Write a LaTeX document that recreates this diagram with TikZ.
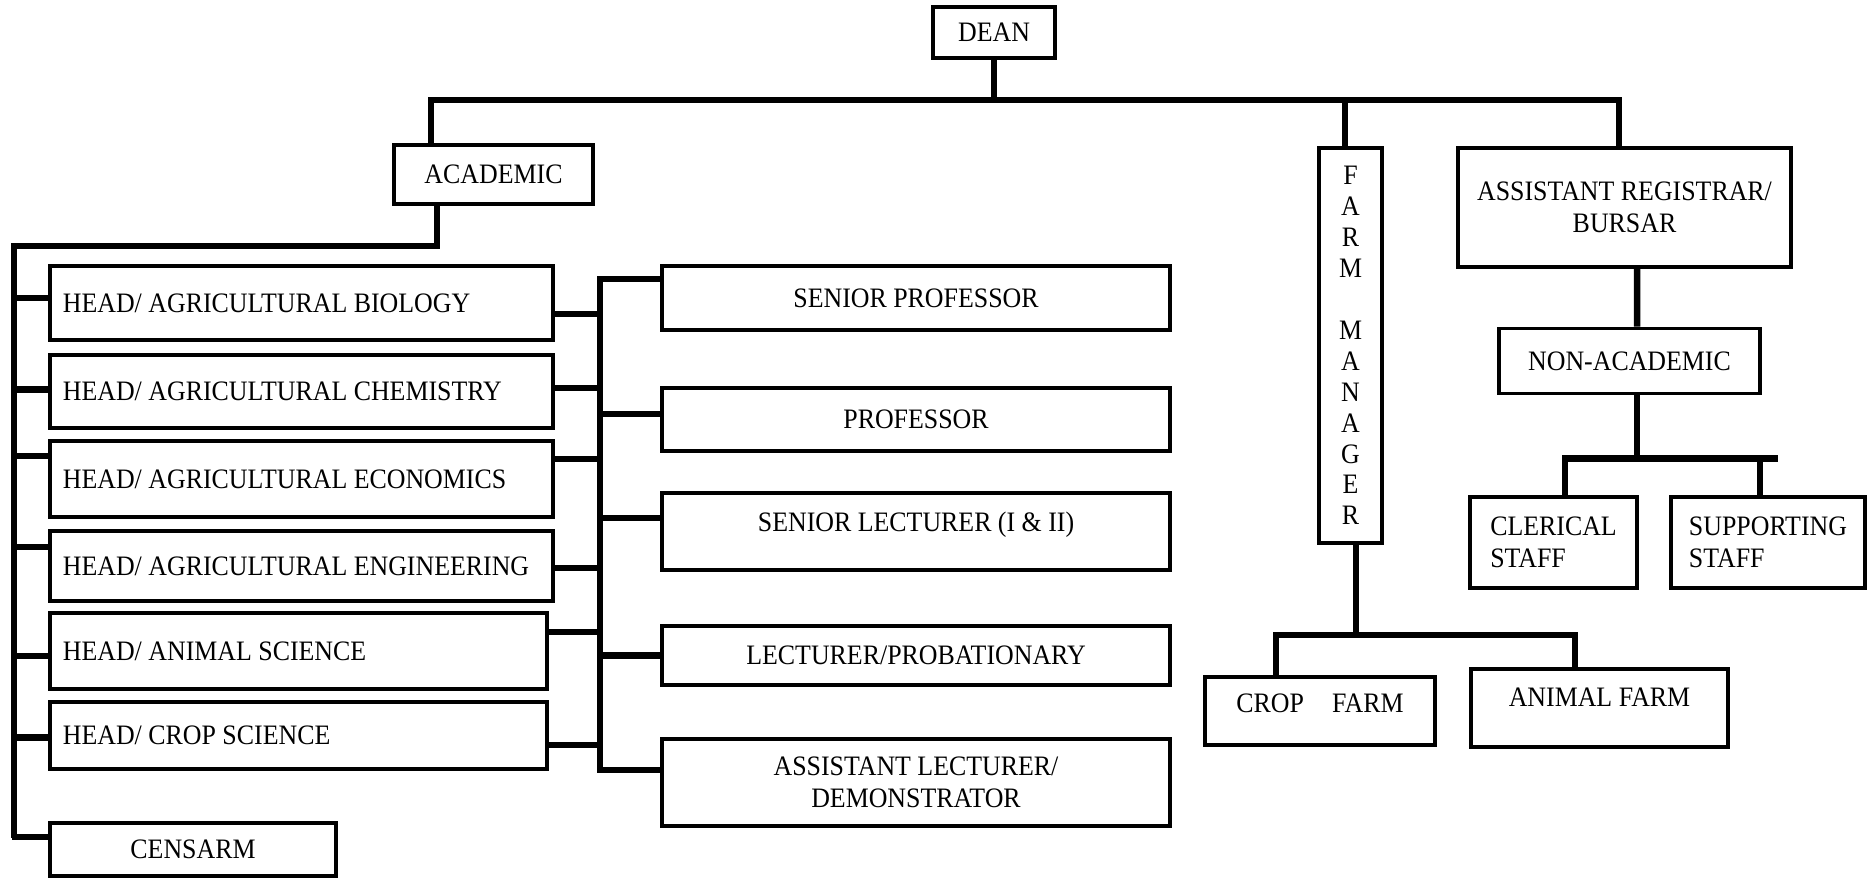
\documentclass[tikz,border=0pt]{standalone}
\usepackage{fontspec}
\setmainfont[FakeStretch=0.92]{Liberation Serif}
\usetikzlibrary{positioning,calc}

\begin{document}
\begin{tikzpicture}[
    x=0.01cm, y=-0.01cm,
    box/.style={draw, line width=1pt, inner sep=0pt, font=\fontsize{8}{9}\selectfont},
    headbox/.style={box, align=flush left, text width=4.77cm, minimum width=5.03cm},
    rankbox/.style={box, align=center, minimum width=5.08cm},
    link/.style={line width=1.85pt}
]
    \useasboundingbox (0,0) rectangle (1870,878);

    \node[box, minimum width=1.22cm, minimum height=0.51cm] (dean) at (994,32.5) {DEAN};
    \node[box, minimum width=1.99cm, minimum height=0.59cm] (academic) at (493.5,174.5) {ACADEMIC};

    \node[headbox, minimum height=0.74cm] (hbio) at (301.5,303) {HEAD/ AGRICULTURAL BIOLOGY};
    \node[headbox, minimum height=0.73cm] (hchem) at (301.5,391.5) {HEAD/ AGRICULTURAL CHEMISTRY};
    \node[headbox, minimum height=0.76cm] (hecon) at (301.5,479) {HEAD/ AGRICULTURAL ECONOMICS};
    \node[headbox, minimum height=0.70cm] (heng) at (301.5,566) {HEAD/ AGRICULTURAL ENGINEERING};
    \node[headbox, minimum width=4.97cm, text width=4.71cm, minimum height=0.76cm] (hanim) at (298.5,651) {HEAD/ ANIMAL SCIENCE};
    \node[headbox, minimum width=4.97cm, text width=4.71cm, minimum height=0.67cm] (hcrop) at (298.5,735.5) {HEAD/ CROP SCIENCE};
    \node[box, minimum width=2.86cm, minimum height=0.53cm] (censarm) at (193,849.5) {CENSARM};

    \node[rankbox, minimum height=0.64cm] (sprof) at (916,298) {SENIOR PROFESSOR};
    \node[rankbox, minimum height=0.63cm] (prof) at (916,419.5) {PROFESSOR};
    \node[rankbox, minimum height=0.77cm, text depth=0.2cm] (slect) at (916,531.5) {SENIOR LECTURER (I \& II)};
    \node[rankbox, minimum height=0.59cm] (lect) at (916,655.5) {LECTURER/PROBATIONARY};
    \node[rankbox, minimum height=0.87cm] (alect) at (916,782.5) {ASSISTANT LECTURER/\\DEMONSTRATOR};

    % farm and bursary side
    \node[box, minimum width=0.63cm, minimum height=3.95cm, align=center, font=\fontsize{8}{8.8}\selectfont] (famgr) at (1350.5,345.5) {F\\A\\R\\M\\[8.8pt]M\\A\\N\\A\\G\\E\\R};
    \node[box, minimum width=3.33cm, minimum height=1.19cm, align=center] (bursar) at (1624.5,207.5) {ASSISTANT REGISTRAR/\\BURSAR};
    \node[box, minimum width=2.61cm, minimum height=0.65cm] (nonac) at (1629.5,361) {NON-ACADEMIC};
    \node[box, minimum width=1.67cm, minimum height=0.91cm, align=left] (clerical) at (1553.5,542.5) {CLERICAL\\STAFF};
    \node[box, minimum width=1.94cm, minimum height=0.91cm, align=left] (support) at (1768,542.5) {SUPPORTING\\STAFF};
    \node[box, minimum width=2.30cm, minimum height=0.68cm, text depth=0.15cm] (cropf) at (1320,711) {CROP\quad FARM};
    \node[box, minimum width=2.57cm, minimum height=0.78cm, text depth=0.22cm] (animf) at (1599.5,708) {ANIMAL FARM};

    % dean to the branches
    \coordinate (top) at (994,100);
    \draw[link] (dean.south) -- (top);
    \draw[link] ([xshift=-0.625cm]academic.north) |- (top) -| ([xshift=-0.055cm]bursar.north);
    \draw[link] ([xshift=-0.055cm]famgr.north) -- ++(0,-48);

    % academic bus on the left
    \coordinate (abus) at (14,246);
    \draw[link] ([xshift=-0.565cm]academic.south) |- (abus) -- ++(0,592);
    \foreach \n/\s in {hbio/0.05, hchem/0.02, hecon/0.23, heng/0.19, hanim/-0.05, hcrop/-0.02, censarm/0.125}
        \draw[link] ([yshift=\s cm]\n.west) -- ++(-36,0);

    % ranks bus
    \coordinate (rbus) at (600,0);
    \path ([yshift=0.19cm]sprof.west) coordinate (rtop) ([yshift=0.125cm]alect.west) coordinate (rbot);
    \draw[link] (rtop) -- (rtop -| rbus) -- (rbot -| rbus) -- (rbot);
    \foreach \n/\s in {prof/0.055, slect/0.135, lect/0} {
        \path ([yshift=\s cm]\n.west) coordinate (tmp);
        \draw[link] (tmp) -- (tmp -| rbus);
    }
    \foreach \n/\s in {hbio/-0.11, hchem/0.035, hecon/0.20, heng/-0.02, hanim/0.19, hcrop/-0.095} {
        \path ([yshift=\s cm]\n.east) coordinate (tmp);
        \draw[link] (tmp) -- (tmp -| rbus);
    }

    % non-academic staff
    \draw[link] ([xshift=0.125cm]bursar.south) -- ([xshift=0.075cm]nonac.north);
    \draw[link] ([xshift=0.075cm]nonac.south) -- ++(0,63) coordinate (nab);
    \draw[link] ([xshift=0.115cm]clerical.north) |- ([xshift=1.41cm]nab);
    \path ([xshift=-0.08cm]support.north) coordinate (sd);
    \draw[link] (sd) -- (sd |- nab);

    % farms
    \draw[link] ([xshift=0.055cm]famgr.south) -- ++(0,90) coordinate (fab);
    \draw[link] ([xshift=-0.44cm]cropf.north) |- (fab) -| ([xshift=-0.245cm]animf.north);
\end{tikzpicture}
\end{document}
